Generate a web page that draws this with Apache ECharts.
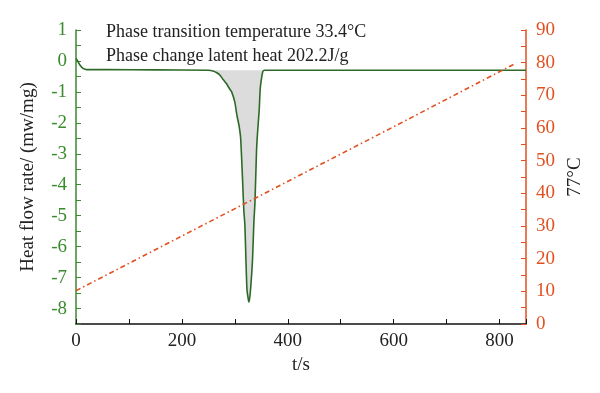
<!DOCTYPE html>
<html>
<head>
<meta charset="utf-8">
<script src="https://cdn.jsdelivr.net/npm/echarts@6/dist/echarts.min.js"></script>
<style>html,body{margin:0;padding:0;background:#fff}#c{width:600px;height:393px}</style>
</head>
<body>
<div id="c"></div>
<script>
// Heat flow curve (t/s, mW/mg)
const heatTime = [0, 3, 8, 14, 20, 60, 150, 250, 260, 266, 272, 278, 284, 290, 294, 300, 304, 308, 311, 315, 317, 319, 321, 323, 326, 327, 329.6, 333.4, 336, 338, 341, 343, 346, 348, 351, 353, 356, 450, 600, 750, 850];
const heatFlow = [0.08, 0.0, -0.15, -0.25, -0.28, -0.28, -0.29, -0.30, -0.33, -0.38, -0.46, -0.6, -0.73, -0.9, -1.0, -1.33, -1.76, -2.1, -2.5, -4.0, -4.83, -5.3, -6.44, -7.4, -7.75, -7.79, -7.41, -6.44, -5.2, -4.6, -2.9, -2.3, -1.6, -0.9, -0.5, -0.34, -0.30, -0.30, -0.30, -0.30, -0.30];
// Temperature line (t/s, °C)
const tempTime = [0, 611, 828];
const tempValue = [10.2, 61.3, 79.6];
const baseline = -0.3;
const xTicks = [0, 200, 400, 600, 800];
const leftTicks = [1, 0, -1, -2, -3, -4, -5, -6, -7, -8];
const rightTicks = [0, 10, 20, 30, 40, 50, 60, 70, 80, 90];
const annotation = ['Phase transition temperature 33.4°C', 'Phase change latent heat 202.2J/g'];

const heatData = heatTime.map((t, i) => [t, heatFlow[i]]);
const peakData = heatData.filter(p => p[0] >= 250 && p[0] <= 356);
const tempData = tempTime.map((t, i) => [t, tempValue[i]]);

const FONT = 'Liberation Serif';
const GREEN = '#3a8a2e';
const ORANGE = '#e2501f';

const chart = echarts.init(document.getElementById('c'));
chart.setOption({
  animation: false,
  textStyle: { fontFamily: FONT },
  grid: { left: 76, right: 74, top: 30, bottom: 69 },
  graphic: [{
    type: 'text', left: 106, top: 20,
    style: { text: annotation.join('\n'), font: '18px "Liberation Serif"', fill: '#222', lineHeight: 24 }
  }],
  xAxis: {
    type: 'value', min: 0, max: 850, interval: 100,
    name: 't/s', nameLocation: 'middle', nameGap: 31,
    nameTextStyle: { fontFamily: FONT, fontSize: 19, color: '#222' },
    axisLine: { onZero: false, lineStyle: { color: '#111', width: 1.5 } },
    axisTick: { inside: true, length: 5, lineStyle: { color: '#111' } },
    axisLabel: { fontFamily: FONT, fontSize: 19, color: '#222', margin: 8,
      formatter: v => xTicks.includes(v) ? String(v) : '' },
    splitLine: { show: false }
  },
  yAxis: [{
    type: 'value', min: -8.5, max: 1, interval: 0.5,
    name: 'Heat flow rate/ (mw/mg)', nameLocation: 'middle', nameGap: 38,
    nameTextStyle: { fontFamily: FONT, fontSize: 19, color: '#222' },
    axisLine: { show: true, onZero: false, lineStyle: { color: GREEN, width: 1.5 } },
    axisTick: { show: true, inside: true, length: 5, lineStyle: { color: GREEN } },
    axisLabel: { fontFamily: FONT, fontSize: 19, color: GREEN, margin: 9,
      formatter: v => leftTicks.includes(v) ? String(v) : '' },
    splitLine: { show: false }
  }, {
    type: 'value', min: 0, max: 90, interval: 10, position: 'right',
    name: '77°C', nameLocation: 'middle', nameGap: 38, nameRotate: 90,
    nameTextStyle: { fontFamily: FONT, fontSize: 19, color: '#222' },
    axisLine: { show: true, onZero: false, lineStyle: { color: ORANGE, width: 1.5 } },
    axisTick: { show: true, inside: true, length: 5, lineStyle: { color: ORANGE } },
    minorTick: { show: true, splitNumber: 2, length: 5, lineStyle: { color: ORANGE } },
    axisLabel: { fontFamily: FONT, fontSize: 19, color: ORANGE, margin: 10,
      formatter: v => rightTicks.includes(v) ? String(v) : '' },
    splitLine: { show: false }
  }],
  series: [{
    type: 'line', data: peakData, yAxisIndex: 0, symbol: 'none', smooth: 0.2,
    lineStyle: { width: 0 }, areaStyle: { color: '#dcdcdc', opacity: 1, origin: baseline }, z: 1
  }, {
    type: 'line', data: heatData, yAxisIndex: 0, symbol: 'none', smooth: 0.2,
    lineStyle: { color: '#2d6a27', width: 1.6 }, z: 2
  }, {
    type: 'line', data: tempData, yAxisIndex: 1, symbol: 'none',
    lineStyle: { color: ORANGE, width: 1.6, type: [5, 3, 1.5, 3] }, z: 3
  }]
});
</script>
</body>
</html>
